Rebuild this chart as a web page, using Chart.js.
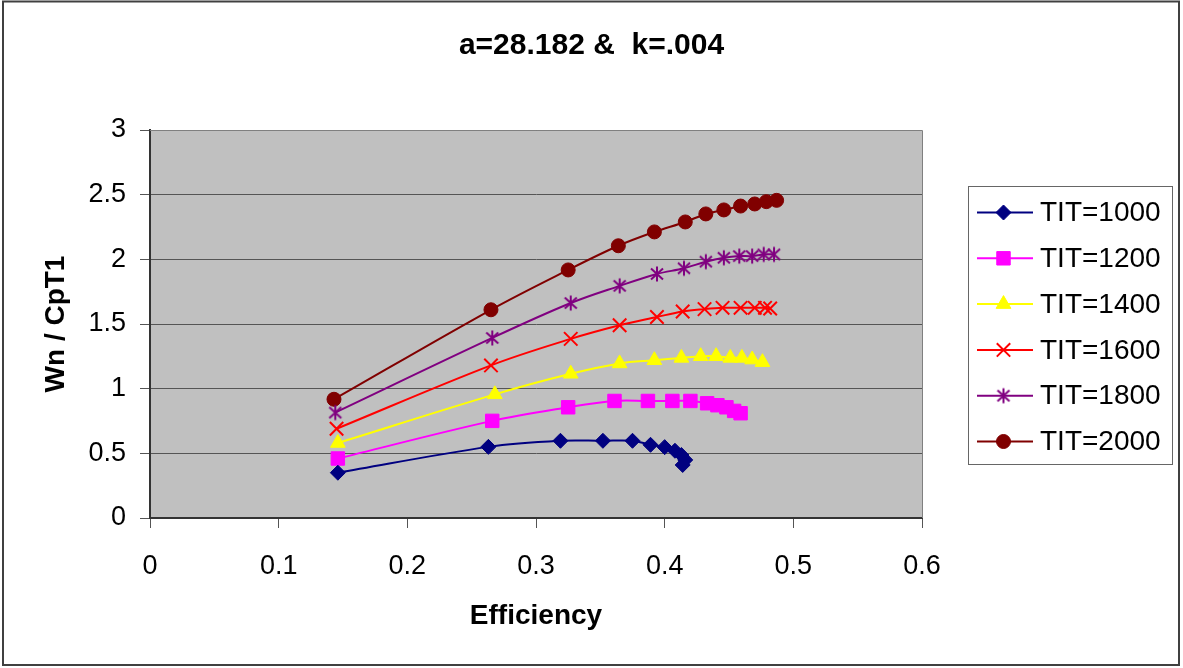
<!DOCTYPE html>
<html>
<head>
<meta charset="utf-8">
<title>Wn / CpT1 vs Efficiency</title>
<script src="https://cdn.jsdelivr.net/npm/chart.js@4.4.1/dist/chart.umd.min.js"></script>
<style>
  html, body { margin: 0; padding: 0; background: #fff; }
  canvas { display: block; }
</style>
</head>
<body>
<canvas id="myChart" width="1183" height="668"></canvas>
<script>
// turbine inlet temperatures, one curve each
const titLevels = [1000, 1200, 1400, 1600, 1800, 2000];

// efficiency (x) and specific net work Wn / CpT1 (y) per TIT
const effic1000 = [0.146, 0.263, 0.319, 0.352, 0.375, 0.389, 0.400, 0.408, 0.413, 0.416, 0.414];
const wn1000 = [0.35, 0.55, 0.597, 0.597, 0.597, 0.566, 0.548, 0.52, 0.487, 0.449, 0.41];

const effic1200 = [0.146, 0.266, 0.325, 0.361, 0.387, 0.406, 0.420, 0.433, 0.441, 0.448, 0.454, 0.459];
const wn1200 = [0.46, 0.751, 0.856, 0.905, 0.905, 0.905, 0.905, 0.887, 0.872, 0.856, 0.828, 0.81];

const effic1400 = [0.146, 0.268, 0.327, 0.365, 0.392, 0.413, 0.428, 0.440, 0.451, 0.460, 0.468, 0.476];
const wn1400 = [0.58, 0.956, 1.115, 1.195, 1.22, 1.238, 1.251, 1.251, 1.238, 1.238, 1.225, 1.205];

const effic1600 = [0.145, 0.265, 0.327, 0.365, 0.394, 0.414, 0.431, 0.445, 0.459, 0.470, 0.478, 0.482];
const wn1600 = [0.69, 1.18, 1.385, 1.49, 1.554, 1.597, 1.615, 1.625, 1.625, 1.625, 1.625, 1.62];

const effic1800 = [0.144, 0.266, 0.327, 0.365, 0.394, 0.415, 0.432, 0.446, 0.458, 0.468, 0.477, 0.485];
const wn1800 = [0.815, 1.392, 1.662, 1.795, 1.887, 1.931, 1.982, 2.012, 2.025, 2.025, 2.038, 2.038];

const effic2000 = [0.143, 0.265, 0.325, 0.364, 0.392, 0.416, 0.432, 0.446, 0.459, 0.470, 0.479, 0.487];
const wn2000 = [0.918, 1.61, 1.918, 2.105, 2.212, 2.289, 2.351, 2.382, 2.412, 2.428, 2.446, 2.456];

const efficSeries = [effic1000, effic1200, effic1400, effic1600, effic1800, effic2000];
const wnSeries = [wn1000, wn1200, wn1400, wn1600, wn1800, wn2000];

const lineColors = ["#000080", "#ff00ff", "#ffff00", "#ff0000", "#800080", "#800000"];

const FONT = '"Liberation Sans", Arial, sans-serif';
Chart.defaults.font.family = FONT;
Chart.defaults.color = "#000";

// six-armed star like the old spreadsheet marker
function starMarker(color) {
  const c = document.createElement("canvas");
  c.width = 18;
  c.height = 18;
  const g = c.getContext("2d");
  g.strokeStyle = color;
  g.lineWidth = 2;
  g.beginPath();
  g.moveTo(9, 1.5); g.lineTo(9, 16.5);
  g.moveTo(3, 3.5); g.lineTo(15, 14.5);
  g.moveTo(15, 3.5); g.lineTo(3, 14.5);
  g.stroke();
  return c;
}

const markers = [
  { style: "rectRot", radius: 7.5 },
  { style: "rect", radius: 9.5 },
  { style: "triangle", radius: 8.5 },
  { style: "crossRot", radius: 9.5 },
  { style: starMarker(lineColors[4]), radius: 9 },
  { style: "circle", radius: 7 },
];

const datasets = titLevels.map((tit, i) => ({
  label: "TIT=" + tit,
  data: efficSeries[i].map((x, j) => ({ x: x, y: wnSeries[i][j] })),
  borderColor: lineColors[i],
  backgroundColor: lineColors[i],
  borderWidth: 2,
  tension: 0.35,
  pointStyle: markers[i].style,
  pointRadius: markers[i].radius,
  pointHoverRadius: markers[i].radius,
  pointBackgroundColor: lineColors[i],
  pointBorderColor: lineColors[i],
  pointBorderWidth: i === 3 ? 2 : 1,
}));

// plain numbers on the axes: 0, 0.5, 1, 1.5 ...
const plainTick = (v) => String(Math.round(v * 10) / 10);

// grey plot area, its frame and the outer chart border
const plotFrame = {
  id: "plotFrame",
  beforeDraw(chart) {
    const { ctx, chartArea: a } = chart;
    ctx.save();
    ctx.fillStyle = "#c0c0c0";
    ctx.fillRect(a.left, a.top, a.right - a.left, a.bottom - a.top);
    ctx.restore();
  },
  beforeDatasetsDraw(chart) {
    const { ctx, chartArea: a } = chart;
    ctx.save();
    ctx.strokeStyle = "#808080";
    ctx.lineWidth = 1;
    ctx.beginPath();
    ctx.moveTo(a.left, Math.round(a.top) + 0.5);
    ctx.lineTo(Math.round(a.right) + 0.5, Math.round(a.top) + 0.5);
    ctx.lineTo(Math.round(a.right) + 0.5, a.bottom);
    ctx.stroke();
    ctx.restore();
  },
  afterDraw(chart) {
    const ctx = chart.ctx;
    ctx.save();
    ctx.strokeStyle = "#404040";
    ctx.lineWidth = 2;
    ctx.strokeRect(3, 1.5, 1176, 663.5);
    ctx.restore();
  },
};

// boxed legend at the right: line sample, marker, label
const sideLegend = {
  id: "sideLegend",
  afterDraw(chart) {
    const ctx = chart.ctx;
    ctx.save();
    ctx.fillStyle = "#fff";
    ctx.fillRect(968, 186, 204, 278);
    ctx.strokeStyle = "#666";
    ctx.lineWidth = 1;
    ctx.strokeRect(968.5, 186.5, 204, 278);
    chart.data.datasets.forEach((ds, i) => {
      const y = 212.5 + i * 45.8;
      ctx.strokeStyle = ds.borderColor;
      ctx.lineWidth = ds.borderWidth;
      ctx.beginPath();
      ctx.moveTo(977, y);
      ctx.lineTo(1033, y);
      ctx.stroke();
      ctx.fillStyle = ds.pointBackgroundColor;
      ctx.strokeStyle = ds.pointBorderColor;
      ctx.lineWidth = ds.pointBorderWidth;
      Chart.helpers.drawPoint(ctx, {
        pointStyle: ds.pointStyle,
        radius: ds.pointRadius,
        borderWidth: ds.pointBorderWidth,
        rotation: 0,
      }, 1003.5, y);
      ctx.fillStyle = "#000";
      ctx.font = "28px " + FONT;
      ctx.textBaseline = "middle";
      ctx.textAlign = "left";
      ctx.fillText(ds.label, 1040, y + 1);
    });
    ctx.restore();
  },
};

new Chart(document.getElementById("myChart"), {
  type: "line",
  data: { datasets: datasets },
  plugins: [plotFrame, sideLegend],
  options: {
    responsive: false,
    animation: false,
    layout: { padding: 0 },
    plugins: {
      legend: { display: false },
      tooltip: { enabled: false },
      title: {
        display: true,
        text: "a=28.182 &  k=.004",
        font: { size: 30, weight: "bold" },
        color: "#000",
        padding: { top: 28, bottom: 66 },
      },
    },
    scales: {
      x: {
        type: "linear",
        min: 0,
        max: 0.6,
        ticks: { stepSize: 0.1, font: { size: 27 }, padding: 22, callback: plainTick },
        grid: { drawOnChartArea: false, tickLength: 10, color: "#555" },
        border: { color: "#333", width: 2 },
        title: {
          display: true,
          text: "Efficiency",
          font: { size: 28, weight: "bold" },
          padding: { top: 0, bottom: 35 },
        },
        afterFit: (scale) => { scale.height = 150; },
      },
      y: {
        min: 0,
        max: 3,
        ticks: { stepSize: 0.5, font: { size: 27 }, padding: 14, callback: plainTick },
        grid: { color: "#555", tickLength: 10 },
        border: { color: "#333", width: 2 },
        title: {
          display: true,
          text: "Wn / CpT1",
          font: { size: 28, weight: "bold" },
          padding: { top: 39, bottom: 0 },
        },
        afterFit: (scale) => { scale.width = 150; },
      },
      // keeps room on the right for the legend box
      legendRoom: {
        type: "linear",
        position: "right",
        ticks: { display: false },
        grid: { display: false },
        border: { display: false },
        afterFit: (scale) => { scale.width = 261; },
      },
    },
  },
});
</script>
</body>
</html>
